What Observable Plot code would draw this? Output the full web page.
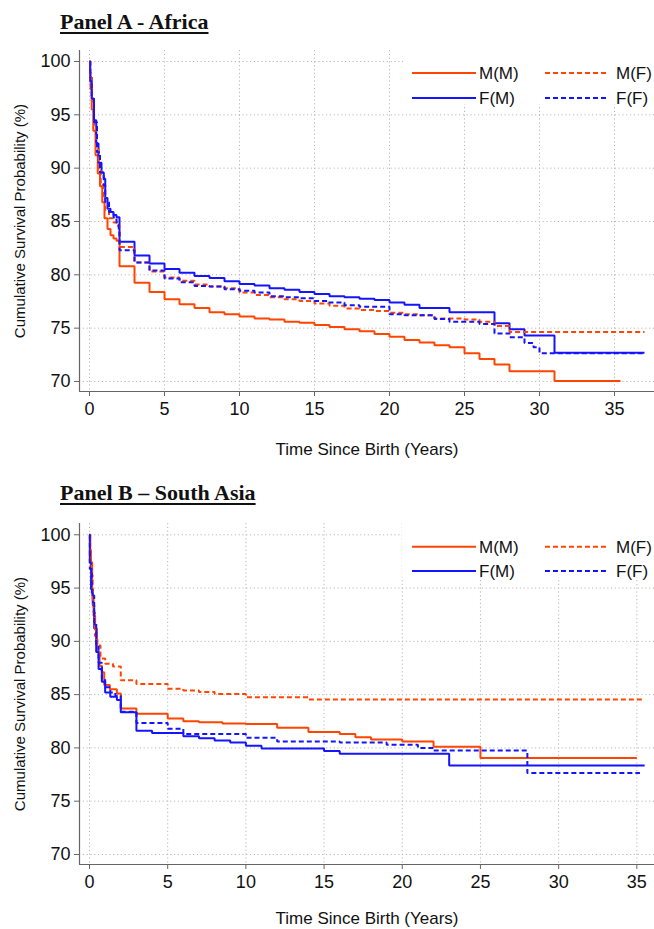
<!DOCTYPE html>
<html><head><meta charset="utf-8">
<script src="https://cdn.jsdelivr.net/npm/d3@7"></script>
<script src="https://cdn.jsdelivr.net/npm/@observablehq/plot@0.6"></script>
<style>
body{margin:0;background:#fff;}
#wrap{position:relative;width:654px;height:929px;overflow:hidden;background:#fff;}
.panel{position:absolute;left:0;}
.ttl{position:absolute;left:60px;font-family:"Liberation Serif","Times New Roman",serif;font-weight:bold;font-size:22px;line-height:22px;text-decoration:underline;text-decoration-thickness:1.5px;text-underline-offset:3px;white-space:nowrap;color:#111;}
</style></head>
<body><div id="wrap"></div>
<script>
// ---- labels & ticks ----
const titles = ["Panel A - Africa", "Panel B \u2013 South Asia"];
const xLabel = "Time Since Birth (Years)";
const yLabel = "Cumulative Survival Probability (%)";
const xTicks = [0, 5, 10, 15, 20, 25, 30, 35];
const yTicks = [70, 75, 80, 85, 90, 95, 100];
const seriesNames = ["M(M)", "F(M)", "M(F)", "F(F)"];
const seriesColors = ["#ff4500", "#1414ff", "#ff4500", "#1414ff"];
const seriesDash = [null, null, "5,3", "5,3"];

// ---- Panel A: Africa  [time (years), survival (%)] ----
const africaMM = [[0,100],[0.03,99],[0.07,97.4],[0.15,95.5],[0.25,93.5],[0.4,91.2],[0.55,89.5],[0.7,88.3],[0.85,86.8],[1.0,85.3],[1.2,84.3],[1.4,83.7],[1.6,83.4],[1.8,83.2],[2,80.8],[3,79.25],[4,78.4],[5,77.7],[6,77.25],[7,76.9],[8,76.5],[9,76.3],[10,76.1],[11,75.9],[12,75.8],[13,75.6],[14,75.5],[15,75.3],[16,75.1],[17,74.9],[18,74.7],[19,74.45],[20,74.2],[21,73.9],[22,73.65],[23,73.4],[24,73.2],[25,72.65],[26,72.1],[27,71.6],[28,70.95],[31,70.05],[35.4,70.05]];
const africaFM = [[0,100],[0.05,98.5],[0.15,96.5],[0.3,94.5],[0.45,92.3],[0.6,90.5],[0.8,89.6],[0.95,89.0],[1.05,87.2],[1.2,86.2],[1.4,85.9],[1.6,85.6],[1.8,85.4],[2,83.1],[3,81.8],[4,81.05],[5,80.55],[6,80.2],[7,79.9],[8,79.7],[9,79.4],[10,79.15],[11,79.0],[12,78.75],[13,78.6],[14,78.4],[15,78.2],[16,78.0],[17,77.9],[18,77.75],[19,77.65],[20,77.4],[21,77.2],[22,76.9],[24,76.5],[27,75.45],[28,74.9],[29,74.3],[31,72.7],[37,72.7]];
const africaMF = [[0,100],[0.05,98.5],[0.15,96.3],[0.3,94],[0.45,92],[0.6,90],[0.75,88.5],[0.9,87.2],[1.05,86.0],[1.3,85.3],[1.6,84.9],[1.85,84.6],[2,82.6],[3,81.15],[4,80.3],[5,79.75],[6,79.45],[7,79.1],[8,78.9],[9,78.75],[10,78.35],[11,78.1],[12,77.9],[13,77.7],[14,77.55],[15,77.3],[16,77.1],[17,76.85],[18,76.7],[19,76.6],[20,76.45],[21,76.3],[22,76.2],[23,75.9],[25,75.8],[26,75.6],[27,75.2],[28,74.65],[37,74.65]];
const africaFF = [[0,100],[0.05,98.1],[0.15,96.5],[0.3,94.3],[0.5,91.5],[0.7,89.6],[0.95,88.4],[1.05,86.8],[1.3,85.9],[1.6,85.4],[1.8,84.9],[1.95,84.0],[2,82.3],[3,81.15],[4,80.4],[5,79.65],[6,79.3],[7,78.95],[8,78.9],[9,78.65],[10,78.5],[11,78.35],[12,78.0],[13,77.9],[14,77.8],[15,77.55],[16,77.4],[17,77.15],[18,77.0],[20,76.3],[21,76.2],[23,75.85],[24,75.6],[26,75.4],[27,74.5],[28,74.15],[29,73.6],[29.6,73.2],[30,72.65],[37,72.65]];

// ---- Panel B: South Asia ----
const asiaMM = [[0,100],[0.05,98.5],[0.09,97.4],[0.17,94.3],[0.26,92.4],[0.36,91.2],[0.47,89.0],[0.64,87.7],[0.79,87.1],[0.94,85.9],[1.3,85.5],[1.75,85.1],[2,83.7],[3,83.2],[5,82.75],[6,82.5],[7,82.4],[8.5,82.3],[10,82.25],[12,81.9],[14,81.5],[16,81.3],[17,81.0],[18,80.8],[20,80.6],[22,80.1],[25,79.05],[35,79.05]];
const asiaFM = [[0,100],[0.02,97.4],[0.1,94.9],[0.21,93.4],[0.3,91.2],[0.43,89.0],[0.58,87.4],[0.79,86.2],[1.0,85.2],[1.33,84.8],[1.75,84.5],[2,83.35],[3,81.6],[4,81.4],[6,81.1],[7,80.9],[8,80.7],[9,80.5],[10,80.2],[11,79.95],[15,79.7],[16,79.45],[23,78.35],[35.5,78.35]];
const asiaMF = [[0,100],[0.04,98.7],[0.09,97.5],[0.13,96.2],[0.2,93.5],[0.26,92.7],[0.35,90.5],[0.5,89.6],[0.7,88.4],[1.0,87.9],[1.5,87.65],[2,86.35],[3,86.0],[5,85.55],[6,85.4],[7,85.25],[8,85.05],[10,84.75],[14,84.55],[35.5,84.55]];
const asiaFF = [[0,100],[0.02,96.8],[0.15,94.3],[0.3,91.8],[0.43,89.6],[0.58,88.0],[0.79,86.5],[1.0,85.7],[1.33,85.2],[1.65,84.9],[2,83.4],[3,82.35],[5,81.8],[6,81.3],[10,80.95],[12,80.6],[16,80.5],[19,80.3],[21,80.0],[22,79.75],[28,77.65],[35.2,77.65]];

const font = '"Liberation Sans", Arial, Helvetica, sans-serif';

function panel(cfg) {
  const series = cfg.series;
  const marks = [
    Plot.gridX(xTicks, {stroke: "#b8b8b8", strokeOpacity: 1, strokeDasharray: "1.2,2.6"}),
    Plot.gridY(yTicks, {stroke: "#b8b8b8", strokeOpacity: 1, strokeDasharray: "1.2,2.6"}),
    Plot.ruleY([cfg.yDomain[0]], {stroke: "#666", strokeWidth: 1.2}),
    Plot.ruleX([cfg.xDomain[0]], {stroke: "#666", strokeWidth: 1.2}),
    Plot.axisX(xTicks, {tickSize: 5, tickPadding: 6, label: null, stroke: "#666", fill: "#111", fontSize: 18}),
    Plot.axisY(yTicks, {tickSize: 5, tickPadding: 4, label: null, stroke: "#666", fill: "#111", fontSize: 18}),
    Plot.text([yLabel], {text: d => d, frameAnchor: "left", textAnchor: "middle", lineAnchor: "middle", dx: -59, rotate: -90, fontSize: 15, fill: "#111"}),
    Plot.text([xLabel], {text: d => d, frameAnchor: "bottom", textAnchor: "middle", lineAnchor: "middle", dy: cfg.xLabelDy, fontSize: 17, fill: "#111"})
  ];
  series.forEach((s, i) => {
    marks.push(Plot.line(s, {
      x: d => d[0], y: d => d[1], curve: "step-after",
      stroke: seriesColors[i], strokeWidth: 2,
      strokeDasharray: seriesDash[i] || undefined,
      strokeLinecap: "butt", strokeLinejoin: "miter"
    }));
  });
  const svg = Plot.plot({
    width: 654, height: cfg.height,
    marginTop: cfg.marginTop, marginBottom: cfg.marginBottom,
    marginLeft: 79, marginRight: 0,
    x: {domain: cfg.xDomain},
    y: {domain: cfg.yDomain},
    style: {fontFamily: font, fontSize: "17px", background: "white", color: "#111", overflow: "visible"},
    marks
  });
  // legend
  const g = d3.select(svg).append("g").attr("text-anchor", "start");
  const L = cfg.legend;
  g.append("rect").attr("x", L.x).attr("y", L.y0).attr("width", 654 - L.x).attr("height", L.y1 - L.y0).attr("fill", "white");
  const cols = [{x0: 412, x1: 476, tx: 479}, {x0: 545, x1: 609, tx: 616}];
  seriesNames.forEach((name, i) => {
    const col = cols[i < 2 ? 0 : 1];
    const ry = L.rows[i % 2];
    g.append("line").attr("x1", col.x0).attr("x2", col.x1).attr("y1", ry).attr("y2", ry)
      .attr("stroke", seriesColors[i]).attr("stroke-width", 2)
      .attr("stroke-dasharray", seriesDash[i]);
    g.append("text").attr("x", col.tx).attr("y", ry).attr("dy", "0.36em")
      .attr("text-anchor", "start")
      .attr("font-family", font).attr("font-size", 17).attr("fill", "#111").text(name);
  });
  svg.classList.add("panel");
  svg.style.top = cfg.top + "px";
  return svg;
}

const wrap = document.getElementById("wrap");
wrap.appendChild(panel({
  top: 0, height: 470, marginTop: 50, marginBottom: 79,
  xDomain: [-0.667, 37.667], yDomain: [69.06, 101.03], xLabelDy: 58,
  series: [africaMM, africaFM, africaMF, africaFF],
  legend: {x: 403, y0: 50, y1: 104, rows: [73, 98]}
}));
wrap.appendChild(panel({
  top: 470, height: 459, marginTop: 53, marginBottom: 65,
  xDomain: [-0.64, 36.13], yDomain: [69.06, 101.06], xLabelDy: 54,
  series: [asiaMM, asiaFM, asiaMF, asiaFF],
  legend: {x: 402, y0: 53, y1: 107, rows: [76.7, 101]}
}));
[[titles[0], 11], [titles[1], 482]].forEach(([t, top]) => {
  const d = document.createElement("div");
  d.className = "ttl"; d.style.top = top + "px"; d.textContent = t;
  wrap.appendChild(d);
});
</script>
</body></html>
